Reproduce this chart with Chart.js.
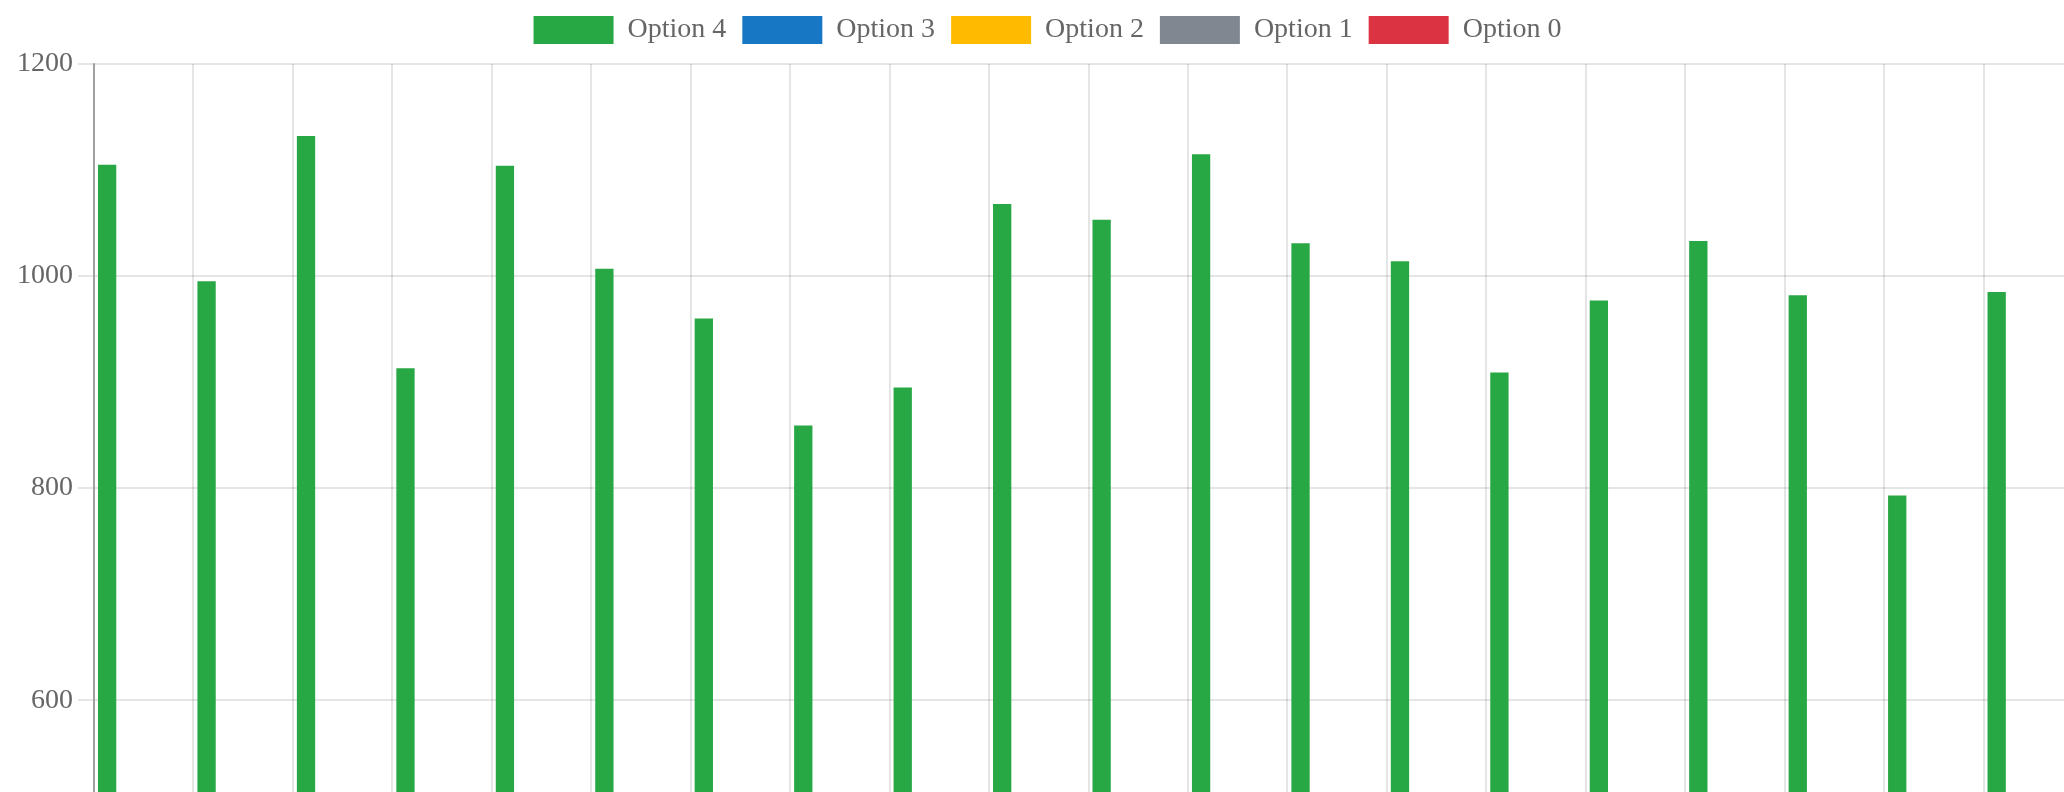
<!DOCTYPE html>
<html>
<head>
<meta charset="utf-8">
<script src="https://cdn.jsdelivr.net/npm/chart.js@4/dist/chart.umd.min.js"></script>
<style>
    html, body { margin: 0; padding: 0; background: #fff; overflow: hidden; }
    #wrap { position: relative; width: 2102px; height: 1392px; }
</style>
</head>
<body>
<div id="wrap"><canvas id="barChart"></canvas></div>
<script>
// categories (x labels fall below the visible crop)
const categories = ['1', '2', '3', '4', '5', '6', '7', '8', '9', '10',
    '11', '12', '13', '14', '15', '16', '17', '18', '19', '20'];

const seriesNames = ['Option 4', 'Option 3', 'Option 2', 'Option 1', 'Option 0'];
const seriesColors = ['#28a745', '#1877c4', '#ffbb00', '#7f8891', '#dc3342'];

// only Option 4 is visible in the picture
const option4 = [1105, 995, 1132, 913, 1104, 1007, 960, 859, 895, 1068,
    1053, 1115, 1031, 1014, 909, 977, 1033, 982, 793, 985];
const option3 = [];
const option2 = [];
const option1 = [];
const option0 = [];

const yTicks = [0, 200, 400, 600, 800, 1000, 1200];

const seriesValues = [option4, option3, option2, option1, option0];

Chart.defaults.font.family = "'Liberation Serif', 'Times New Roman', serif";
Chart.defaults.color = '#666';

// a bit more room between legend and plot
const legendGap = {
    id: 'legendGap',
    beforeInit(chart) {
        const fit = chart.legend.fit;
        chart.legend.fit = function () {
            fit.bind(chart.legend)();
            this.height += 10;
        };
    }
};

const ctx = document.getElementById('barChart');

new Chart(ctx, {
    type: 'bar',
    data: {
        labels: categories,
        datasets: seriesNames.map((name, i) => ({
            label: name,
            data: seriesValues[i],
            backgroundColor: seriesColors[i],
            borderColor: seriesColors[i],
            borderWidth: 0,
            categoryPercentage: 0.92,
            barPercentage: 1.0
        }))
    },
    options: {
        responsive: true,
        maintainAspectRatio: false,
        animation: false,
        layout: {
            padding: { left: 12, right: 19, top: 0, bottom: 0 }
        },
        plugins: {
            legend: {
                display: true,
                position: 'top',
                labels: {
                    boxWidth: 80,
                    boxHeight: 28,
                    padding: 16,
                    color: '#666',
                    font: { size: 28 }
                }
            },
            tooltip: { enabled: false }
        },
        scales: {
            x: {
                grid: {
                    color: 'rgba(0, 0, 0, 0.1)',
                    lineWidth: 2,
                    offset: true,
                    tickLength: 16
                },
                border: { display: false },
                ticks: { font: { size: 28 }, color: '#666' }
            },
            y: {
                min: yTicks[0],
                max: yTicks[yTicks.length - 1],
                grid: {
                    color: 'rgba(0, 0, 0, 0.1)',
                    lineWidth: 2,
                    tickLength: 16
                },
                border: { display: true, color: 'rgba(0, 0, 0, 0.3)', width: 2 },
                afterBuildTicks: axis => {
                    axis.ticks = yTicks.map(v => ({ value: v }));
                },
                ticks: {
                    font: { size: 28 },
                    color: '#666',
                    padding: 5,
                    callback: value => String(value)
                }
            }
        }
    },
    plugins: [legendGap]
});
</script>
</body>
</html>
